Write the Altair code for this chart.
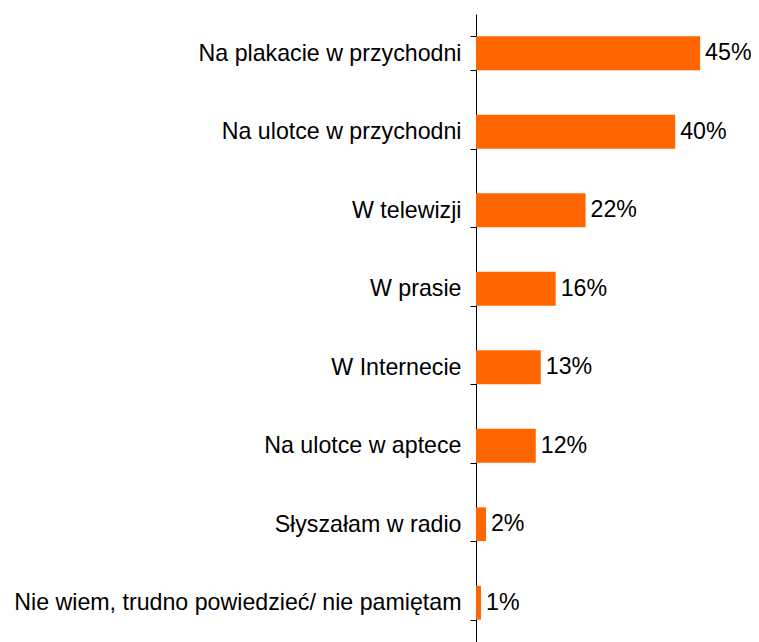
import altair as alt
import pandas as pd

categories = [
    "Na plakacie w przychodni",
    "Na ulotce w przychodni",
    "W telewizji",
    "W prasie",
    "W Internecie",
    "Na ulotce w aptece",
    "Słyszałam w radio",
    "Nie wiem, trudno powiedzieć/ nie pamiętam",
]
values = [45, 40, 22, 16, 13, 12, 2, 1]
labels = [f"{v}%" for v in values]

df = pd.DataFrame({"cat": categories, "val": values, "lab": labels})

FONT = "Liberation Sans"
FS = 23.2

y = alt.Y(
    "cat:N",
    sort=categories,
    title=None,
    scale=alt.Scale(paddingInner=0.57, paddingOuter=0.285),
    axis=alt.Axis(
        ticks=True,
        tickBand="extent",
        domain=True,
        domainColor="black",
        domainWidth=1,
        tickColor="black",
        tickSize=6,
        tickWidth=1,
        tickOpacity=1,
        labelFont=FONT,
        labelFontSize=FS,
        labelColor="black",
        labelPadding=9,
        labelLimit=0,
    ),
)

x = alt.X("val:Q", scale=alt.Scale(domain=[0, 50]), axis=None)

bars = alt.Chart(df).mark_bar(color="#FF6600").encode(x=x, y=y)
text = alt.Chart(df).mark_text(
    align="left", baseline="middle", dx=5, font=FONT, fontSize=FS, color="black"
).encode(x=x, y=y, text="lab:N")

chart = (
    alt.layer(bars, text)
    .properties(
        width=249,
        height=628,
        autosize=alt.AutoSizeParams(type="none"),
        padding={"left": 468, "top": 6, "right": 26, "bottom": 0},
    )
    .configure_view(stroke=None)
)

chart.save("out.html", embed_options={"renderer": "svg", "actions": False})
